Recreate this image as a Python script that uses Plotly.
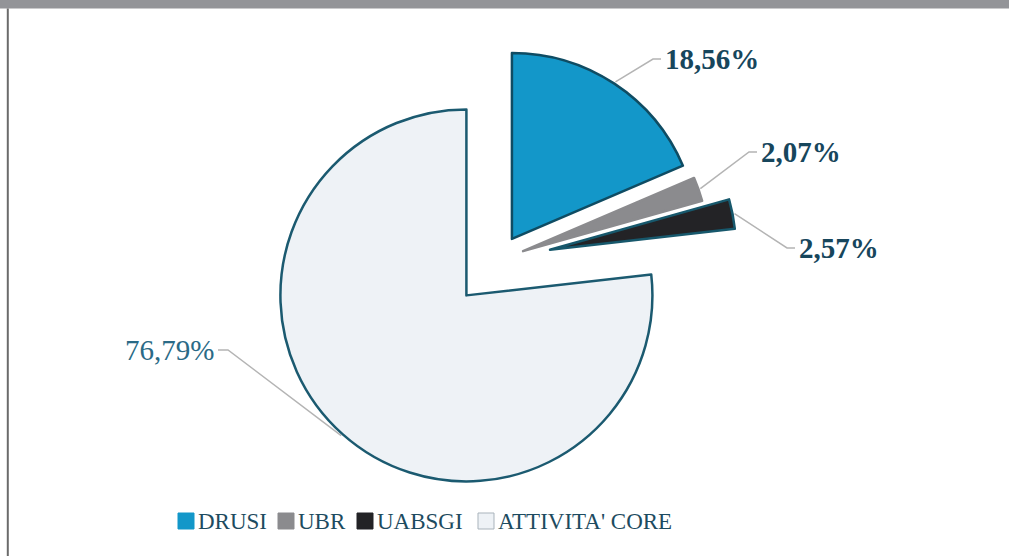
import math
import plotly.graph_objects as go

# ---- data -------------------------------------------------------------
labels = ["DRUSI", "UBR", "UABSGI", "ATTIVITA' CORE"]
shares = [18.56, 2.07, 2.57, 76.79]

# ---- styling ----------------------------------------------------------
fill_colors = ["#1397c9", "#8b8b8e", "#232326", "#eef2f6"]
edge_colors = ["#0f4c63", "#8b8b8e", "#17586c", "#1b5a70"]
legend_box_edges = ["#1397c9", "#8b8b8e", "#232326", "#a9b3bb"]
pulls = [0.136, 0.143, 0.285, 0.255]

W, H = 1009, 556
CX, CY = 498.0, 260.0      # pie centre in px
R = 186.0                  # slice radius in px
SERIF = "Times New Roman, Liberation Serif, Times, serif"

max_pull = max(pulls)
span = 2 * R * (1 + max_pull)
dom_x = [(CX - span / 2) / W, (CX + span / 2) / W]
dom_y = [1 - (CY + span / 2) / H, 1 - (CY - span / 2) / H]


def px(x):
    return x / W


def py(y):
    return 1 - y / H


fig = go.Figure(
    go.Pie(
        labels=labels,
        values=shares,
        sort=False,
        direction="clockwise",
        rotation=0,
        pull=pulls,
        textinfo="none",
        hoverinfo="label+percent",
        marker=dict(colors=fill_colors, line=dict(color=edge_colors, width=2.5)),
        domain=dict(x=dom_x, y=dom_y),
        showlegend=False,
    )
)

shapes = []
annotations = []

# frame: grey band on top and a rule on the left
shapes.append(dict(type="rect", xref="paper", yref="paper", x0=0, x1=1,
                   y0=py(8.5), y1=1, fillcolor="#939498", line=dict(width=0)))
shapes.append(dict(type="line", xref="paper", yref="paper", x0=px(7.8), x1=px(7.8),
                   y0=0, y1=py(8.5), line=dict(color="#6b6b6b", width=2)))

# value labels with leader lines from the middle of each slice's arc
label_anchor = [(663, 59, "left"), (759, 152, "left"), (797, 248, "left"), (216, 350, "right")]
label_colors = ["#17465c", "#17465c", "#17465c", "#2a6a86"]
bold = [True, True, True, False]

total = sum(shares)
cum = 0.0
for i, v in enumerate(shares):
    mid = 2 * math.pi * (cum + v / 2) / total
    cum += v
    dx, dy = math.sin(mid), -math.cos(mid)
    dist = (1 + pulls[i]) * R + 2
    ax_, ay_ = CX + dist * dx, CY + dist * dy
    lx, ly, side = label_anchor[i]
    ex = lx - 10 if side == "left" else lx + 12
    end_x = lx - 2 if side == "left" else lx + 2
    shapes.append(dict(
        type="path", xref="paper", yref="paper",
        path=f"M {px(ax_)} {py(ay_)} L {px(ex)} {py(ly)} L {px(end_x)} {py(ly)}",
        line=dict(color="#b4b4b4", width=1.5),
    ))
    txt = f"{v:.2f}".replace(".", ",") + "%"
    if bold[i]:
        txt = f"<b>{txt}</b>"
    annotations.append(dict(
        x=px(lx), y=py(ly), xref="paper", yref="paper", text=txt,
        showarrow=False, xanchor=side, yanchor="middle",
        font=dict(family=SERIF, size=29, color=label_colors[i]),
    ))

# legend row
legend_box_x = [178, 278, 357, 478]
box = 16
legend_y = 521
for i, name in enumerate(labels):
    bx = legend_box_x[i]
    shapes.append(dict(
        type="rect", xref="paper", yref="paper",
        x0=px(bx), x1=px(bx + box), y0=py(legend_y + box / 2), y1=py(legend_y - box / 2),
        fillcolor=fill_colors[i], line=dict(color=legend_box_edges[i], width=1),
    ))
    annotations.append(dict(
        x=px(bx + box + 2), y=py(legend_y), xref="paper", yref="paper", text=name,
        showarrow=False, xanchor="left", yanchor="middle",
        font=dict(family=SERIF, size=23, color="#1d4b60"),
    ))

fig.update_layout(
    width=W, height=H,
    margin=dict(l=0, r=0, t=0, b=0, autoexpand=False),
    paper_bgcolor="white", plot_bgcolor="white",
    font=dict(family=SERIF),
    shapes=shapes, annotations=annotations,
    showlegend=False,
)

fig.write_html("out.html")
